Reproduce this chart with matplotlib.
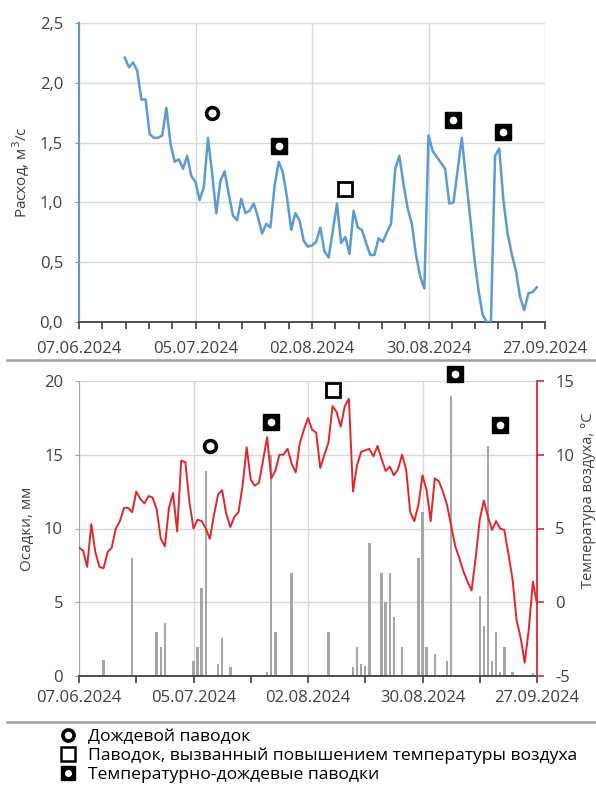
import numpy as np
import pandas as pd
import matplotlib
matplotlib.use('Agg')
import matplotlib.pyplot as plt
import matplotlib.dates as mdates
from matplotlib.lines import Line2D
from matplotlib.legend_handler import HandlerTuple
from matplotlib.ticker import FuncFormatter, MultipleLocator, FixedLocator

plt.rcParams['font.family'] = ['Open Sans', 'DejaVu Sans']
plt.rcParams['axes.unicode_minus'] = False

# discharge, m3/s, daily from 18.06.2024
flow = [2.21, 2.13, 2.17, 2.10, 1.86, 1.86, 1.57, 1.54, 1.54, 1.56,
        1.79, 1.49, 1.34, 1.36, 1.28, 1.39, 1.22, 1.17, 1.02, 1.13,
        1.54, 1.24, 0.91, 1.18, 1.26, 1.07, 0.89, 0.85, 1.03, 0.91,
        0.93, 0.99, 0.88, 0.74, 0.82, 0.79, 1.14, 1.34, 1.25, 1.04,
        0.77, 0.91, 0.85, 0.68, 0.63, 0.64, 0.67, 0.79, 0.59, 0.54,
        0.76, 0.99, 0.66, 0.71, 0.57, 0.93, 0.79, 0.77, 0.66, 0.56,
        0.56, 0.70, 0.67, 0.75, 0.82, 1.28, 1.39, 1.15, 0.95, 0.82,
        0.56, 0.38, 0.28, 1.56, 1.43, 1.38, 1.33, 1.28, 0.99, 1.00,
        1.27, 1.54, 1.20, 0.88, 0.54, 0.27, 0.06, 0.00, 0.00, 1.39,
        1.45, 1.02, 0.74, 0.57, 0.43, 0.21, 0.10, 0.24, 0.25, 0.29]
flow_dates = pd.date_range('2024-06-18', periods=len(flow))

# air temperature, deg C, daily from 07.06.2024
temp = [3.7, 3.5, 2.4, 5.3, 3.4, 2.4, 2.3, 3.4, 3.7, 5.0,
        5.5, 6.4, 6.4, 6.1, 7.5, 7.0, 6.7, 7.2, 7.1, 6.3,
        4.3, 3.8, 6.4, 7.4, 4.8, 9.6, 9.5, 6.8, 5.0, 5.6,
        5.5, 5.0, 4.3, 5.9, 7.3, 7.6, 6.0, 5.1, 5.8, 6.1,
        7.9, 10.5, 8.3, 7.9, 8.1, 9.6, 11.2, 8.4, 8.9, 10.0,
        10.0, 10.4, 9.4, 8.8, 10.8, 11.7, 12.5, 11.7, 11.5, 9.1,
        10.0, 10.8, 13.3, 12.9, 11.9, 13.3, 13.8, 7.5, 9.3, 10.2,
        10.3, 10.4, 9.9, 10.6, 9.7, 8.9, 9.2, 8.6, 9.0, 10.0,
        9.0, 6.1, 5.5, 6.6, 8.6, 7.6, 5.5, 8.4, 8.2, 7.5,
        6.6, 5.2, 3.8, 3.0, 2.1, 1.4, 0.8, 3.0, 5.6, 6.9,
        5.8, 4.9, 5.5, 5.0, 4.9, 3.3, 1.6, -1.2, -2.4, -4.1,
        -1.8, 1.4, -0.1]
temp_dates = pd.date_range('2024-06-07', periods=len(temp))

# precipitation, mm
rain_dates = pd.to_datetime([
    '2024-06-09', '2024-06-13', '2024-06-20', '2024-06-26', '2024-06-27',
    '2024-06-28', '2024-07-05', '2024-07-06', '2024-07-07', '2024-07-08',
    '2024-07-09', '2024-07-11', '2024-07-12', '2024-07-14', '2024-07-15',
    '2024-07-20', '2024-07-23', '2024-07-24', '2024-07-25', '2024-07-29',
    '2024-08-07', '2024-08-10', '2024-08-13', '2024-08-14', '2024-08-15',
    '2024-08-16', '2024-08-17', '2024-08-18', '2024-08-19', '2024-08-20',
    '2024-08-21', '2024-08-22', '2024-08-23', '2024-08-25', '2024-08-27',
    '2024-08-29', '2024-08-30', '2024-08-31', '2024-09-02', '2024-09-04',
    '2024-09-05', '2024-09-06', '2024-09-13', '2024-09-14', '2024-09-15',
    '2024-09-16', '2024-09-17', '2024-09-18', '2024-09-19', '2024-09-21',
    '2024-09-26'])
rain = [0.1, 1.1, 8.0, 3.0, 2.0,
        3.6, 1.0, 2.0, 6.0, 13.9,
        0.1, 0.8, 2.6, 0.6, 0.1,
        0.1, 0.3, 15.0, 3.0, 7.0,
        3.0, 0.1, 0.6, 2.0, 0.8,
        0.7, 9.0, 0.1, 0.1, 7.0,
        5.0, 7.0, 4.0, 2.0, 0.1,
        8.0, 11.1, 2.0, 1.5, 0.1,
        1.0, 19.0, 5.4, 3.4, 15.6,
        1.0, 3.0, 0.25, 2.0, 0.3,
        0.2]

# flood events: top (discharge) and bottom (precipitation axis)
rain_flood_top = (['2024-07-09'], [1.75])
temp_flood_top = (['2024-08-10'], [1.11])
mixed_flood_top = (['2024-07-25', '2024-09-05', '2024-09-17'], [1.47, 1.69, 1.59])
rain_flood_bot = (['2024-07-09'], [15.6])
temp_flood_bot = (['2024-08-08'], [19.4])
mixed_flood_bot = (['2024-07-24', '2024-09-07', '2024-09-18'], [17.2, 20.5, 17.0])

legend_labels = ['Дождевой паводок',
                 'Паводок, вызванный повышением температуры воздуха',
                 'Температурно-дождевые паводки']

start = pd.Timestamp('2024-06-07')
end = pd.Timestamp('2024-09-27')
major = pd.date_range(start, end, freq='28D')

blue = '#5b9bd5'
red = '#e3262b'
grid_c = '#d9d9d9'
txt_c = '#404040'
W, H = 596, 787
FS = 12


def rect(l, t, r, b):
    return [l / W, 1 - b / H, (r - l) / W, (b - t) / H]


def comma(v, pos):
    return ('%.1f' % v).replace('.', ',')


def draw_events(ax, rain_ev, temp_ev, mixed_ev):
    kw = dict(linestyle='none', clip_on=False, zorder=5)
    ax.plot(pd.to_datetime(rain_ev[0]), rain_ev[1], marker='o', ms=8.5,
            mfc='white', mec='black', mew=2.6, **kw)
    ax.plot(pd.to_datetime(temp_ev[0]), temp_ev[1], marker='s', ms=10,
            mfc='white', mec='black', mew=2.0, **kw)
    ax.plot(pd.to_datetime(mixed_ev[0]), mixed_ev[1], marker='s', ms=11,
            mfc='black', mec='black', **kw)
    ax.plot(pd.to_datetime(mixed_ev[0]), mixed_ev[1], marker='o', ms=4.5,
            mfc='white', mec='white', linestyle='none', clip_on=False, zorder=6)


def style_dates(ax, minor_step, pad):
    ax.set_xlim(start, end)
    ax.xaxis.set_major_locator(FixedLocator(mdates.date2num(major)))
    ax.xaxis.set_minor_locator(FixedLocator(
        mdates.date2num(start) + np.arange(0, 112.01, minor_step)))
    ax.xaxis.set_major_formatter(mdates.DateFormatter('%d.%m.%Y'))
    ax.tick_params(axis='x', which='both', direction='out', length=5,
                   width=1.2, color='#404040', labelsize=FS,
                   labelcolor=txt_c, pad=pad)
    ax.grid(True, axis='both', which='major', color=grid_c, lw=1)
    ax.spines['top'].set_visible(False)
    ax.spines['right'].set_visible(False)
    ax.spines['bottom'].set_color('#404040')
    ax.spines['bottom'].set_linewidth(1.3)


fig = plt.figure(figsize=(W / 100, H / 100), dpi=100)

# discharge
ax1 = fig.add_axes(rect(79, 23, 545, 322))
ax1.plot(flow_dates, flow, color=blue, lw=1.8, zorder=3)
style_dates(ax1, 5.6, 8.5)
ax1.set_ylim(0, 2.5)
ax1.yaxis.set_major_locator(MultipleLocator(0.5))
ax1.yaxis.set_major_formatter(FuncFormatter(comma))
ax1.tick_params(axis='y', length=3, color=blue, labelsize=FS,
                labelcolor=txt_c, pad=8.5)
ax1.spines['left'].set_color(blue)
ax1.spines['left'].set_linewidth(1.5)
ax1.set_ylabel('Расход, м$^3$/с', fontsize=11, color=txt_c)
ax1.yaxis.set_label_coords(-0.10, 0.5)
draw_events(ax1, rain_flood_top, temp_flood_top, mixed_flood_top)

# precipitation + temperature
ax2 = fig.add_axes(rect(79, 381, 537, 676))
ax2.bar(rain_dates, rain, width=0.6, color='#a6a6a6', zorder=2)
style_dates(ax2, 14, 5)
ax2.set_ylim(0, 20)
ax2.yaxis.set_major_locator(MultipleLocator(5))
ax2.tick_params(axis='y', length=3, color='#a6a6a6', labelsize=FS,
                labelcolor=txt_c, pad=8.5)
ax2.spines['left'].set_color('#a6a6a6')
ax2.set_ylabel('Осадки, мм', fontsize=11, color=txt_c)
ax2.yaxis.set_label_coords(-0.096, 0.5)

ax3 = ax2.twinx()
ax3.plot(temp_dates, temp, color=red, lw=1.4, zorder=3)
ax3.set_ylim(-5, 15)
ax3.yaxis.set_major_locator(MultipleLocator(5))
ax3.tick_params(axis='y', length=5, color=red, width=1.2, labelsize=FS,
                labelcolor=txt_c, pad=8)
for s in ['top', 'left', 'bottom']:
    ax3.spines[s].set_visible(False)
ax3.spines['right'].set_color(red)
ax3.spines['right'].set_linewidth(1.3)
draw_events(ax3, (rain_flood_bot[0], [v - 5 for v in rain_flood_bot[1]]),
            (temp_flood_bot[0], [v - 5 for v in temp_flood_bot[1]]),
            (mixed_flood_bot[0], [v - 5 for v in mixed_flood_bot[1]]))
fig.text(588 / W, 1 - 500 / H, 'Температура воздуха, °С', rotation=90,
         ha='center', va='center', fontsize=10.5, color=txt_c)

# separators
fig.add_artist(Line2D([7 / W, 1], [1 - 360 / H] * 2, color='#a0a0a0', lw=1.8))
fig.add_artist(Line2D([7 / W, 1], [1 - 722 / H] * 2, color='#a0a0a0', lw=1.8))

# legend
h_rain = Line2D([], [], marker='o', ms=8, mfc='white', mec='black',
                mew=2.6, linestyle='none')
h_temp = Line2D([], [], marker='s', ms=10, mfc='white', mec='black',
                mew=1.8, linestyle='none')
h_mix = (Line2D([], [], marker='s', ms=10, mfc='black', mec='black',
                linestyle='none'),
         Line2D([], [], marker='o', ms=4, mfc='white', mec='white',
                linestyle='none'))
fig.legend([h_rain, h_temp, h_mix], legend_labels,
           handler_map={tuple: HandlerTuple(ndivide=1)},
           loc='upper left', bbox_to_anchor=(57 / W, 1 - 729 / H),
           frameon=False, fontsize=12.6, handlelength=1.2,
           handletextpad=0.6, labelspacing=0.15, borderpad=0,
           borderaxespad=0, labelcolor='black')

fig.savefig('out.png', dpi=100)
